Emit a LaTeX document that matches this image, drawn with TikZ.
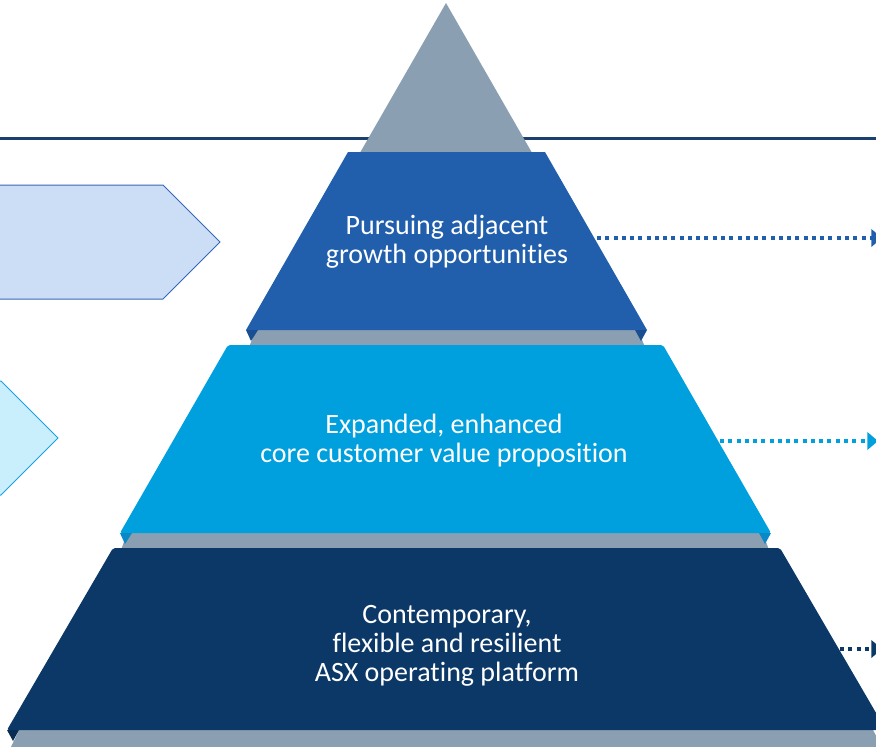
\documentclass[tikz,border=0pt]{standalone}
\usepackage{fontspec}
\setmainfont{Carlito}[Ligatures=NoCommon]
\usetikzlibrary{arrows.meta}
\definecolor{slate}{HTML}{8A9FB2}
\definecolor{rule}{HTML}{1B3F6E}
\definecolor{tierA}{HTML}{215FAC}
\definecolor{tierAdark}{HTML}{194E92}
\definecolor{tierB}{HTML}{00A0DF}
\definecolor{tierBdark}{HTML}{0B88C6}
\definecolor{tierC}{HTML}{0C3868}
\definecolor{tierCdark}{HTML}{092C52}
\definecolor{chevA}{HTML}{CCDEF5}
\definecolor{chevAline}{HTML}{3568B4}
\definecolor{chevB}{HTML}{C9EFFD}
\definecolor{chevBline}{HTML}{1CA1E0}

\begin{document}
\begin{tikzpicture}[x=0.75pt,y=-0.75pt,
	tierlabel/.style={text=white, align=center, inner sep=0pt, font=\fontsize{21}{21.75}\selectfont},
	flow/.style={line width=3pt, dash pattern=on 3pt off 3.2pt, -{Triangle[length=8pt,width=13pt]}}]
		\useasboundingbox (0,0) rectangle (876,747);
		\clip (0,0) rectangle (876,747);
		% rule behind the pyramid
		\draw[rule, line width=2.25pt] (0,138) -- (876,138);
		% chevrons on the left
		\draw[fill=chevA, draw=chevAline, line width=0.75pt] (-10,185) -- (163,185) -- (220,242) -- (163,299) -- (-10,299) -- cycle;
		\draw[fill=chevB, draw=chevBline, line width=0.75pt] (-10,381) -- (1,381) -- (58,438) -- (1,495) -- (-10,495) -- cycle;
		% grey top and bands
		\fill[slate] (446,3) -- (535,158) -- (357,158) -- cycle;
		\fill[slate] (257,328) -- (637,328) -- (645,347) -- (249,347) -- cycle;
		\fill[slate] (128,531) -- (762,531) -- (769,550) -- (121,550) -- cycle;
		\fill[slate] (20,728) -- (872,728) -- (882,747) -- (11,747) -- cycle;
		% tiers
		\fill[tierA] (348,152) -- (545,152) -- (647,330) -- (246,330) -- cycle;
		\fill[tierB, rounded corners=1.5pt] (228,345) -- (663,345) -- (771,533) -- (120,533) -- cycle;
		\fill[tierC, rounded corners=1.5pt] (113,548) -- (780,548) -- (886,730) -- (7,730) -- cycle;
		% bevels at the lower corners
		\fill[tierAdark] (246,330) -- (258,330) -- (251,341) -- cycle;
		\fill[tierAdark] (647,330) -- (635,330) -- (641,341) -- cycle;
		\fill[tierBdark] (120,533) -- (132,533) -- (125,544) -- cycle;
		\fill[tierBdark] (771,533) -- (759,533) -- (765,544) -- cycle;
		\fill[tierCdark] (7,730) -- (19,730) -- (13,741) -- cycle;
		% labels
		\node[tierlabel] (grow) at (447,242) {Pursuing adjacent\\growth opportunities};
		\node[tierlabel] (core) at (444,441) {Expanded, enhanced\\core customer value proposition};
		\node[tierlabel] (plat) at (447,646) {Contemporary,\\flexible and resilient\\ASX operating platform};
		% dotted arrows to the right
		\foreach \n/\y/\xs/\xe/\c in {grow/238/597/882/tierA, core/441/720/878/tierB, plat/649/840/882/tierC}
		{
			\coordinate (\n-s) at (\xs,\y);
			\coordinate (\n-e) at (\xe,\y);
			\draw[flow, \c] (\n-s) -- (\n-e);
		}
	\end{tikzpicture}
\end{document}
